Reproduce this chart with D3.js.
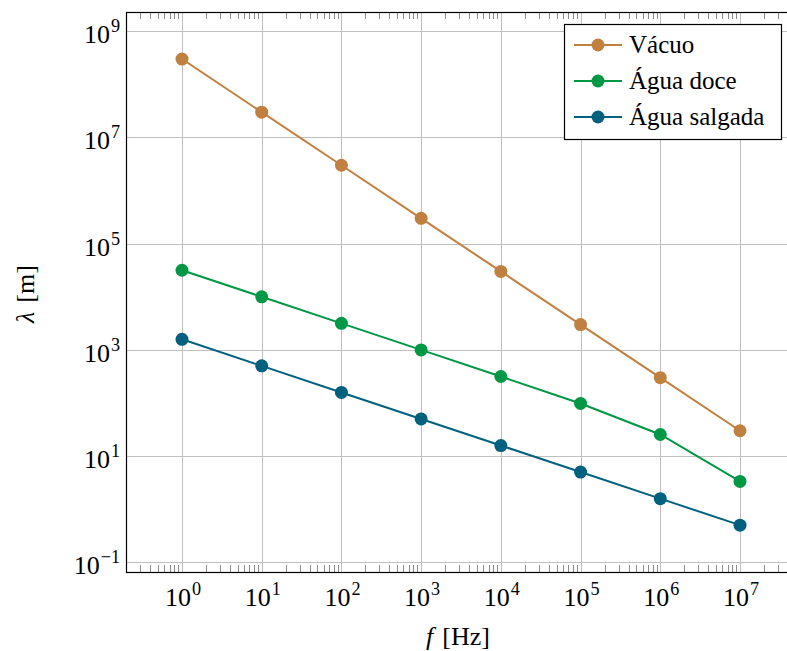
<!DOCTYPE html>
<html>
<head>
<meta charset="utf-8">
<script src="https://cdn.jsdelivr.net/npm/d3@7"></script>
<style>
  html, body { margin: 0; padding: 0; background: #fff; }
  svg { display: block; }
  text { font-family: "Liberation Serif", "DejaVu Serif", serif; fill: #000; }
</style>
</head>
<body>
<svg id="chart" width="787" height="651"></svg>
<script>
// Wavelength versus frequency in three media
const frequencies = [1, 1e1, 1e2, 1e3, 1e4, 1e5, 1e6, 1e7];
const vacuo = [3e8, 3e7, 3e6, 3e5, 3e4, 3e3, 300, 30];
const aguaDoce = [31623, 10000, 3162, 1000, 315, 98, 25.5, 3.33];
const aguaSalgada = [1581, 500, 158, 50, 15.8, 5.0, 1.58, 0.5];

const seriesNames = ["Vácuo", "Água doce", "Água salgada"];
const seriesColors = ["#c08040", "#009845", "#00617f"];

const xTickExponents = [0, 1, 2, 3, 4, 5, 6, 7];
const yTickExponents = [-1, 1, 3, 5, 7, 9];

const xLabel = "f";
const xUnit = "[Hz]";
const yLabel = "λ";
const yUnit = "[m]";

const series = seriesNames.map((name, i) => ({
  name,
  color: seriesColors[i],
  values: [vacuo, aguaDoce, aguaSalgada][i].map((v, j) => ({ f: frequencies[j], v }))
}));

const svg = d3.select("#chart");
const plot = { left: 126, right: 796, top: 12, bottom: 572 };

const x = d3.scaleLog()
  .domain([Math.pow(10, -0.7025), Math.pow(10, 7.7025)])
  .range([plot.left, plot.right]);
const y = d3.scaleLog()
  .domain([Math.pow(10, -1.183), Math.pow(10, 9.363)])
  .range([plot.bottom, plot.top]);

const FS = 26;      // tick labels and axis titles
const LEG_FS = 25;  // legend entries

// grid lines
const grid = svg.append("g").attr("stroke", "#bfbfbf").attr("stroke-width", 1);
xTickExponents.forEach(e => {
  const px = Math.round(x(Math.pow(10, e))) + 0.5;
  grid.append("line").attr("x1", px).attr("x2", px).attr("y1", plot.top).attr("y2", plot.bottom);
});
yTickExponents.forEach(e => {
  const py = Math.round(y(Math.pow(10, e))) + 0.5;
  grid.append("line").attr("x1", plot.left).attr("x2", plot.right).attr("y1", py).attr("y2", py);
});

// minor ticks on the frequency axis (bottom and top)
const minor = [];
for (let e = -1; e <= 7; e++) {
  for (let m = 2; m <= 9; m++) {
    const f = m * Math.pow(10, e);
    if (f > x.domain()[0] && f < x.domain()[1]) minor.push(f);
  }
}
const ticks = svg.append("g").attr("stroke", "#8a8a8a").attr("stroke-width", 1);
minor.forEach(f => {
  const px = Math.round(x(f)) + 0.5;
  ticks.append("line").attr("x1", px).attr("x2", px).attr("y1", plot.bottom).attr("y2", plot.bottom - 7);
  ticks.append("line").attr("x1", px).attr("x2", px).attr("y1", plot.top).attr("y2", plot.top + 7);
});

// frame
svg.append("rect")
  .attr("x", plot.left + 0.5).attr("y", plot.top + 0.5)
  .attr("width", plot.right - plot.left).attr("height", plot.bottom - plot.top)
  .attr("fill", "none").attr("stroke", "#000").attr("stroke-width", 1.2);

// tick labels with superscript exponents
function powerLabel(g, px, py, exp, anchor) {
  const t = g.append("text").attr("x", px).attr("y", py)
    .attr("text-anchor", anchor).style("font-size", FS + "px");
  t.append("tspan").text("10");
  t.append("tspan").attr("dx", 1).attr("dy", -11).style("font-size", (FS * 0.7) + "px")
    .text(exp < 0 ? "\u2212" + Math.abs(exp) : String(exp));
}
const xl = svg.append("g");
xTickExponents.forEach(e => powerLabel(xl, x(Math.pow(10, e)) + 1, 606, e, "middle"));
const yl = svg.append("g");
yTickExponents.forEach(e => powerLabel(yl, 120, y(Math.pow(10, e)) + 12, e, "end"));

// axis titles
const xt = svg.append("text").attr("x", 458).attr("y", 645)
  .attr("text-anchor", "middle").style("font-size", FS + "px");
xt.append("tspan").style("font-style", "italic").text(xLabel);
xt.append("tspan").attr("dx", 9).text(xUnit);

const yt = svg.append("text")
  .attr("transform", "translate(34,294) rotate(-90)")
  .attr("text-anchor", "middle").style("font-size", FS + "px");
yt.append("tspan").style("font-style", "italic").text(yLabel);
yt.append("tspan").attr("dx", 9).text(yUnit);

// series lines and markers
const line = d3.line().x(d => x(d.f)).y(d => y(d.v));
series.forEach(s => {
  svg.append("path").datum(s.values)
    .attr("d", line).attr("fill", "none")
    .attr("stroke", s.color).attr("stroke-width", 2);
  svg.append("g").selectAll("circle").data(s.values).join("circle")
    .attr("cx", d => x(d.f)).attr("cy", d => y(d.v)).attr("r", 6.5)
    .attr("fill", s.color);
});

// legend
const lg = svg.append("g");
lg.append("rect").attr("x", 564.5).attr("y", 24.5).attr("width", 217).attr("height", 115)
  .attr("fill", "#fff").attr("stroke", "#000").attr("stroke-width", 1.2);
series.forEach((s, i) => {
  const cy = 45 + i * 36;
  lg.append("line").attr("x1", 574).attr("x2", 622).attr("y1", cy).attr("y2", cy)
    .attr("stroke", s.color).attr("stroke-width", 2);
  lg.append("circle").attr("cx", 598).attr("cy", cy).attr("r", 6.5).attr("fill", s.color);
  lg.append("text").attr("x", 629).attr("y", cy + 8).style("font-size", LEG_FS + "px").text(s.name);
});
</script>
</body>
</html>
